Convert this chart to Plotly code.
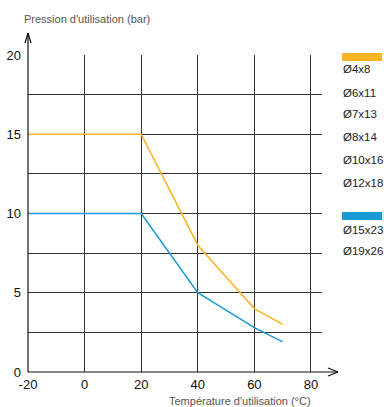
import plotly.graph_objects as go

# Data
temps = [-20, 20, 40, 60, 70]
pression_orange = [15, 15, 8, 4, 3]
pression_bleu = [10, 10, 5, 2.8, 1.9]

sizes_orange = ["Ø4x8", "Ø6x11", "Ø7x13", "Ø8x14", "Ø10x16", "Ø12x18"]
sizes_bleu = ["Ø15x23", "Ø19x26"]

x_tick_vals = [-20, 0, 20, 40, 60, 80]
x_tick_text = ["-20", "0", "20", "40", "60", "80"]
y_tick_vals = [0, 2.5, 5, 7.5, 10, 12.5, 15, 17.5, 20]
y_tick_text = ["0", "", "5", "", "10", "", "15", "", "20"]

ORANGE = "#FBB523"
BLUE = "#1A9AD6"
FONT = "Liberation Sans, Arial, sans-serif"

W, H = 384, 407
# plot area in screen pixels: x 28..322, y 55..372
SX0, SX1, SY0, SY1 = 28, 322, 55, 372
L, R, T, B = SX0, W - SX1, SY0, H - SY1
PW, PH = SX1 - SX0, SY1 - SY0


def px(xs):
    return (xs - SX0) / PW


def py(ys):
    return (SY1 - ys) / PH


fig = go.Figure()
fig.add_trace(go.Scatter(x=temps, y=pression_orange, mode="lines",
                         line=dict(color=ORANGE, width=1.5), hoverinfo="skip"))
fig.add_trace(go.Scatter(x=temps, y=pression_bleu, mode="lines",
                         line=dict(color=BLUE, width=1.5), hoverinfo="skip"))

shapes = []
# axis arrows
line_style = dict(color="#111", width=1.2)
shapes.append(dict(type="line", xref="paper", yref="paper", x0=0, y0=0, x1=0, y1=py(33), line=line_style))
shapes.append(dict(type="line", xref="paper", yref="paper", x0=px(25), y0=py(43), x1=0, y1=py(33), line=line_style))
shapes.append(dict(type="line", xref="paper", yref="paper", x0=px(31), y0=py(43), x1=0, y1=py(33), line=line_style))
shapes.append(dict(type="line", xref="paper", yref="paper", x0=0, y0=0, x1=px(338), y1=0, line=line_style))
shapes.append(dict(type="line", xref="paper", yref="paper", x0=px(328), y0=py(368), x1=px(338), y1=0, line=line_style))
shapes.append(dict(type="line", xref="paper", yref="paper", x0=px(328), y0=py(376), x1=px(338), y1=0, line=line_style))
# legend colour bars
shapes.append(dict(type="rect", xref="paper", yref="paper", x0=px(342), x1=px(382), y0=py(61), y1=py(53),
                   fillcolor=ORANGE, line=dict(width=0)))
shapes.append(dict(type="rect", xref="paper", yref="paper", x0=px(342), x1=px(382), y0=py(220), y1=py(212),
                   fillcolor=BLUE, line=dict(width=0)))

annotations = []
orange_y = [69, 93, 114, 137, 160, 183]
blue_y = [230, 251]
for label, yp in zip(sizes_orange + sizes_bleu, orange_y + blue_y):
    annotations.append(dict(text=label, xref="paper", yref="paper", x=px(341), y=py(yp),
                            xanchor="left", yanchor="middle", showarrow=False,
                            font=dict(family=FONT, size=11.5, color="#222")))
annotations.append(dict(text="Pression d'utilisation (bar)", xref="paper", yref="paper",
                        x=px(22), y=py(19), xanchor="left", yanchor="middle", showarrow=False,
                        font=dict(family=FONT, size=11, color="#555")))
annotations.append(dict(text="Température d'utilisation (°C)", xref="paper", yref="paper",
                        x=px(313), y=py(401), xanchor="right", yanchor="middle", showarrow=False,
                        font=dict(family=FONT, size=11, color="#555")))

fig.update_layout(
    width=W, height=H,
    margin=dict(l=L, r=R, t=T, b=B, pad=0, autoexpand=False),
    paper_bgcolor="white", plot_bgcolor="white",
    showlegend=False,
    shapes=shapes, annotations=annotations,
    font=dict(family=FONT, size=13, color="#111"),
    xaxis=dict(range=[-20, 83.9], tickvals=x_tick_vals, ticktext=x_tick_text, showgrid=True,
               gridcolor="#333", gridwidth=1,
               zeroline=False, showline=False, ticks="", ticklabelstandoff=3, fixedrange=True,
               automargin=False),
    yaxis=dict(range=[0, 20], tickvals=y_tick_vals, ticktext=y_tick_text, showgrid=True, gridcolor="#333",
               gridwidth=1, zeroline=False, showline=False, ticks="", ticklabelstandoff=6, fixedrange=True,
               automargin=False),
)

fig.write_html("out.html", config={"displayModeBar": False},
               post_script="document.body.style.margin='0px';document.body.style.overflow='hidden';")
